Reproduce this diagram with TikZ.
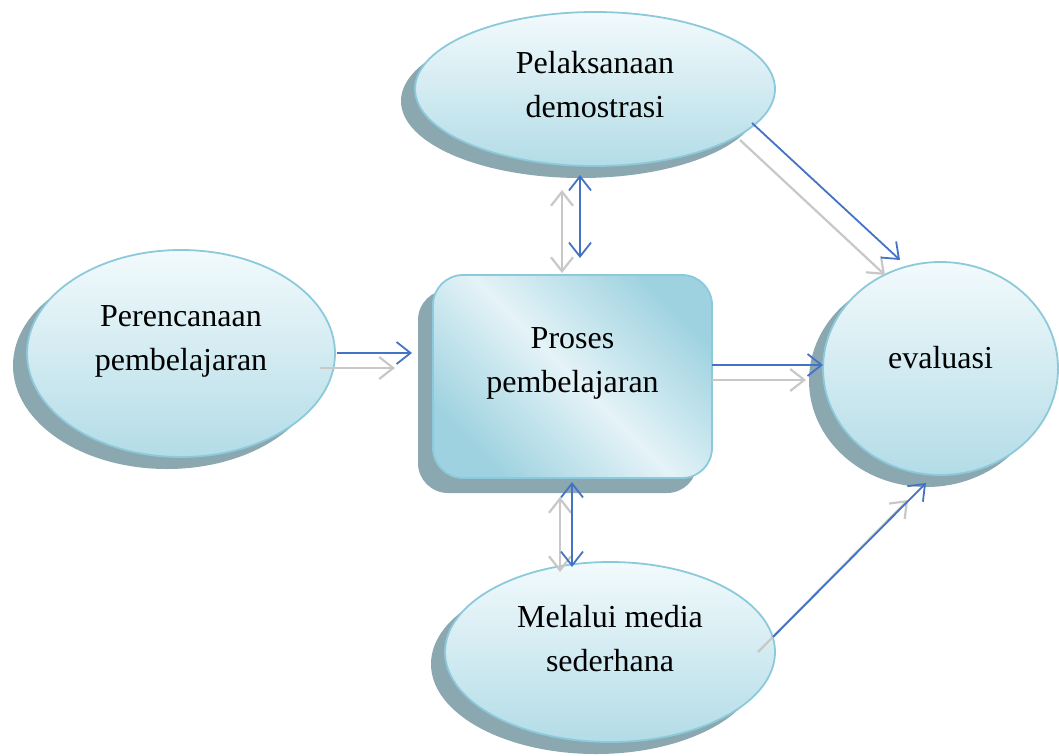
\documentclass[tikz,border=0pt]{standalone}
\usepackage{fontspec}
\setmainfont{Liberation Serif}
\usetikzlibrary{shapes.geometric,shadows,arrows.meta}
\definecolor{fillTop}{HTML}{F2FAFC}
\definecolor{fillBot}{HTML}{B3DCE7}
\definecolor{edgecol}{HTML}{8CCADB}
\definecolor{shcol}{HTML}{7F9EA8}
\definecolor{rectDark}{HTML}{9ED2E0}
\definecolor{rectLight}{HTML}{E4F3F7}
\definecolor{arrblue}{HTML}{4472C4}
\definecolor{arrgray}{HTML}{C8C8C8}
\tikzset{
  bubble/.style={ellipse, draw=edgecol, line width=1.8pt, top color=fillTop, bottom color=fillBot,
    inner sep=0pt, drop shadow={shadow xshift=-14pt, shadow yshift=-12pt, fill=shcol, opacity=0.9}},
  procbox/.style={rectangle, rounded corners=30pt, draw=edgecol, line width=1.8pt,
    top color=rectDark, bottom color=rectDark, middle color=rectLight, shading angle=-45,
    inner sep=0pt, drop shadow={shadow xshift=-15pt, shadow yshift=-15pt, fill=shcol, opacity=0.9}},
  txt/.style={font=\fontsize{32}{44}\selectfont, align=center, text=black},
  tipb/.tip={Straight Barb[length=14pt,width=22pt]},
  bluearr/.style={draw=arrblue, line width=1.8pt, -tipb},
  grayarr/.style={draw=arrgray, line width=2.2pt, -tipb},
  bluedbl/.style={draw=arrblue, line width=1.8pt, tipb-tipb},
  graydbl/.style={draw=arrgray, line width=2.2pt, tipb-tipb},
}
\begin{document}
\begin{tikzpicture}[x=1pt,y=-1pt]
\useasboundingbox (0,0) rectangle (1059,755);
\fill[white] (0,0) rectangle (1059,755);

\node[bubble, minimum width=360pt, minimum height=154pt,
  label={[txt,yshift=4pt]center:{Pelaksanaan\\demostrasi}}] (top) at (595,89) {};
\node[bubble, minimum width=308pt, minimum height=207pt,
  label={[txt,yshift=12.5pt]center:{Perencanaan\\pembelajaran}}] (left) at (181,353.5) {};
\node[bubble, minimum width=235pt, minimum height=213pt,
  label={[txt,yshift=11pt]center:{evaluasi}}] (right) at (940.5,368.5) {};
\node[bubble, minimum width=330pt, minimum height=180pt,
  label={[txt,yshift=13.5pt]center:{Melalui media\\sederhana}}] (bottom) at (610,652) {};
\node[procbox, minimum width=279pt, minimum height=203pt,
  label={[txt,yshift=13pt]center:{Proses\\pembelajaran}}] (proc) at (572.5,376.5) {};

% connector end points
\coordinate (g1a) at (320,368); \coordinate (g1b) at (395,368);
\coordinate (b1a) at (337,353); \coordinate (b1b) at (412,353);
\coordinate (g2a) at (712,380); \coordinate (g2b) at (806,380);
\coordinate (b2a) at (712,365); \coordinate (b2b) at (823,365);
\coordinate (g3a) at (562,190); \coordinate (g3b) at (562,273);
\coordinate (b3a) at (580,175); \coordinate (b3b) at (580,258);
\coordinate (g4a) at (560,497); \coordinate (g4b) at (560,572);
\coordinate (b4a) at (572,482); \coordinate (b4b) at (572,567);
\coordinate (g5a) at (740,140); \coordinate (g5b) at (885,275);
\coordinate (b5a) at (752,123); \coordinate (b5b) at (900,260);
\coordinate (g6a) at (758,652); \coordinate (g6b) at (908,500);
\coordinate (b6a) at (773,637); \coordinate (b6b) at (926,483);

\draw[grayarr] (g1a) -- (g1b);
\draw[grayarr] (g2a) -- (g2b);
\draw[graydbl] (g3a) -- (g3b);
\draw[graydbl] (g4a) -- (g4b);
\draw[grayarr] (g5a) -- (g5b);
\draw[grayarr] (g6a) -- (g6b);

\draw[bluearr] (b1a) -- (b1b);
\draw[bluearr] (b2a) -- (b2b);
\draw[bluedbl] (b3a) -- (b3b);
\draw[bluedbl] (b4a) -- (b4b);
\draw[bluearr] (b5a) -- (b5b);
\draw[bluearr] (b6a) -- (b6b);
\end{tikzpicture}
\end{document}
